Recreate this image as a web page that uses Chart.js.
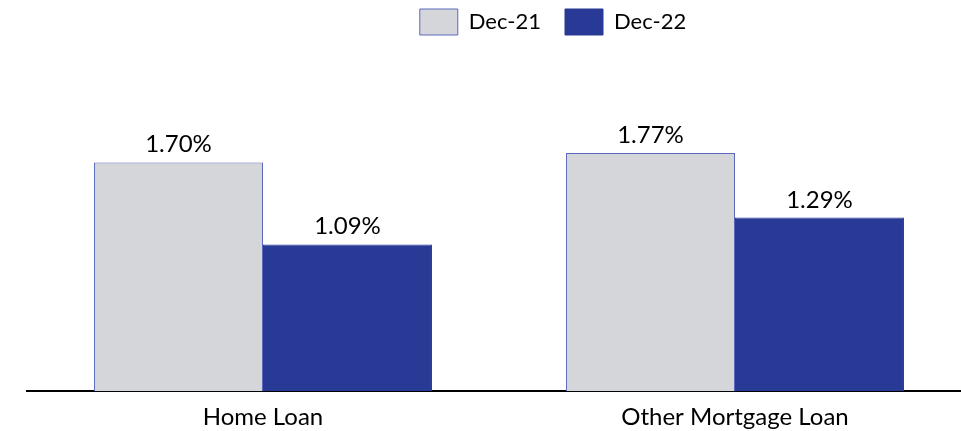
<!DOCTYPE html>
<html>
<head>
<meta charset="utf-8">
<script src="https://cdn.jsdelivr.net/npm/chart.js@4.4.0/dist/chart.umd.min.js"></script>
<style>
  html, body { margin: 0; padding: 0; background: #fff; overflow: hidden; }
  #wrap { width: 971px; height: 444px; }
</style>
</head>
<body>
<div id="wrap"><canvas id="npaChart" width="971" height="444"></canvas></div>
<script>
// Gross NPA ratio by loan type
const categories = ['Home Loan', 'Other Mortgage Loan'];
const seriesNames = ['Dec-21', 'Dec-22'];
const dec21Values = [1.70, 1.77];
const dec22Values = [1.09, 1.29];

const FONT = 'Lato, "Open Sans", sans-serif';

// legend: taller box so the plot starts lower, then nudged right/up
const legendPlacement = {
  id: 'legendPlacement',
  beforeInit(chart) {
    const legend = chart.legend;
    const fit = legend.fit;
    legend.fit = function () {
      fit.call(this);
      this.height = 122;
    };
  },
  afterLayout(chart) {
    const legend = chart.legend;
    legend.left += 54;
    legend.right += 54;
    legend.top -= 15;
    legend.bottom -= 15;
  }
};

// percentage text above each bar
const valueLabels = {
  id: 'valueLabels',
  afterDatasetsDraw(chart) {
    const ctx = chart.ctx;
    ctx.save();
    ctx.font = '24px ' + FONT;
    ctx.fillStyle = '#000';
    ctx.textAlign = 'center';
    ctx.textBaseline = 'alphabetic';
    chart.data.datasets.forEach((ds, i) => {
      chart.getDatasetMeta(i).data.forEach((bar, j) => {
        ctx.fillText(ds.data[j].toFixed(2) + '%', bar.x, bar.y - 10);
      });
    });
    ctx.restore();
  }
};

const ctx = document.getElementById('npaChart').getContext('2d');
new Chart(ctx, {
  type: 'bar',
  data: {
    labels: categories,
    datasets: [
      {
        label: seriesNames[0],
        data: dec21Values,
        backgroundColor: '#d5d6da',
        borderColor: '#5b69bd',
        borderWidth: 1
      },
      {
        label: seriesNames[1],
        data: dec22Values,
        backgroundColor: '#283996',
        borderColor: '#283996',
        borderWidth: 1
      }
    ]
  },
  options: {
    responsive: false,
    animation: false,
    layout: { padding: { left: 27, right: 0, top: 0, bottom: 0 } },
    categoryPercentage: 0.716,
    barPercentage: 1.0,
    plugins: {
      legend: {
        position: 'top',
        labels: {
          boxWidth: 38,
          boxHeight: 26,
          padding: 24,
          color: '#000',
          font: { family: FONT, size: 22 }
        }
      },
      tooltip: { enabled: false }
    },
    scales: {
      x: {
        grid: { display: false, drawTicks: false },
        border: { display: true, color: '#000', width: 2 },
        ticks: {
          color: '#000',
          padding: 12,
          font: { family: FONT, size: 24 }
        }
      },
      y: {
        display: false,
        min: 0,
        max: 2.0
      }
    }
  },
  plugins: [legendPlacement, valueLabels]
});
</script>
</body>
</html>
